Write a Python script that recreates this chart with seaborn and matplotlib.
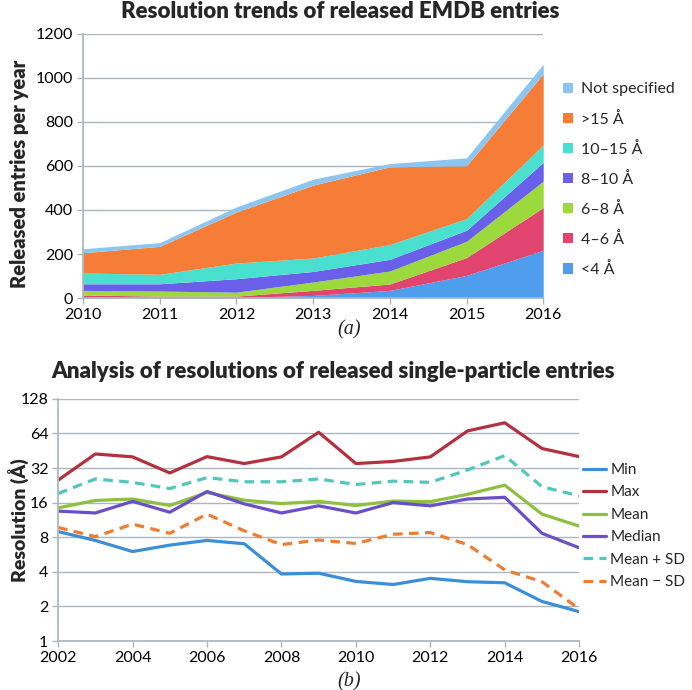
import numpy as np
import pandas as pd
import matplotlib
matplotlib.use("Agg")
import matplotlib.pyplot as plt
import seaborn as sns

# ---------------------------------------------------------------
# Datos panel (a): entradas EMDB publicadas por año y resolución
# ---------------------------------------------------------------
years_a = [2010, 2011, 2012, 2013, 2014, 2015, 2016]
res_lt4 = [5, 3, 3, 12, 35, 103, 217]
res_4_6 = [9, 6, 6, 23, 29, 81, 194]
res_6_8 = [21, 23, 18, 38, 59, 74, 120]
res_8_10 = [30, 33, 61, 48, 53, 50, 85]
res_10_15 = [49, 43, 71, 61, 67, 53, 79]
res_gt15 = [92, 127, 232, 331, 353, 240, 323]
res_ns = [18, 17, 23, 27, 15, 36, 44]
labels_a = ["<4 Å", "4–6 Å", "6–8 Å", "8–10 Å", "10–15 Å", ">15 Å", "Not specified"]
colors_a = ["#4f9ded", "#e0446f", "#9bd93c", "#6a5fe8", "#4ae0d0", "#f57d38", "#8cc6f0"]

# ---------------------------------------------------------------
# Datos panel (b): estadísticas de resolución (Å), single-particle
# ---------------------------------------------------------------
years_b = list(range(2002, 2017))
res_min = [8.95, 7.5, 6.0, 6.83, 7.5, 7.02, 3.83, 3.89, 3.3, 3.1, 3.51, 3.28, 3.21, 2.21, 1.80]
res_max = [25.1, 42.4, 40.0, 29.0, 40.2, 35.0, 40.0, 65.5, 35.0, 36.5, 40.0, 67.3, 79.2, 47.3, 40.2]
res_mean = [14.4, 16.7, 17.2, 15.1, 19.6, 16.8, 15.7, 16.4, 15.1, 16.5, 16.3, 18.9, 22.7, 12.7, 10.0]
res_median = [13.5, 13.0, 16.4, 13.2, 20.0, 15.6, 13.0, 15.0, 13.0, 16.0, 15.0, 17.2, 17.8, 8.65, 6.47]
res_mean_plus = [19.2, 25.7, 24.0, 21.2, 26.4, 24.3, 24.3, 25.7, 23.0, 24.6, 24.0, 30.8, 41.0, 22.0, 18.3]
res_mean_minus = [9.72, 8.1, 10.4, 8.65, 12.7, 9.1, 6.9, 7.56, 7.06, 8.49, 8.78, 6.9, 4.16, 3.28, 1.9]
labels_b = ["Min", "Max", "Mean", "Median", "Mean + SD", "Mean − SD"]
colors_b = ["#3b8fd8", "#b3303f", "#8dc03f", "#6a50c8", "#4fc8bb", "#ee7d31"]

sns.set_theme(style="white")
plt.rcParams["font.family"] = ["Lato", "DejaVu Sans"]

fig = plt.figure(figsize=(6.92, 6.90), dpi=100)
grid_col = "#aab7c0"

# =================================================================
# PANEL (a)
# =================================================================
ax1 = fig.add_axes([0.120, 0.568, 0.665, 0.383])
ax1.stackplot(years_a, res_lt4, res_4_6, res_6_8, res_8_10, res_10_15, res_gt15, res_ns,
              colors=colors_a, labels=labels_a, linewidth=0)
ax1.set_xlim(2010, 2016)
ax1.set_ylim(0, 1200)
ax1.set_yticks(range(0, 1201, 200))
ax1.set_xticks(years_a)
ax1.yaxis.grid(True, color=grid_col, linewidth=1)
ax1.set_axisbelow(True)
for s in ["top", "right"]:
    ax1.spines[s].set_visible(False)
ax1.spines["left"].set_color(grid_col)
ax1.spines["bottom"].set_color(grid_col)
ax1.tick_params(axis="both", labelsize=11.5, colors="black", length=4, width=1, pad=3)
ax1.tick_params(axis="y", color=grid_col, direction="out", left=True)
ax1.tick_params(axis="x", color=grid_col, direction="out", bottom=True)
ax1.set_ylabel("Released entries per year", fontsize=14.5, fontweight="heavy")
ax1.yaxis.set_label_coords(-0.118, 0.47)
fig.text(0.491, 0.984, "Resolution trends of released EMDB entries",
         ha="center", va="center", fontsize=16, fontweight="heavy")
h, l = ax1.get_legend_handles_labels()
ax1.legend(h[::-1], l[::-1], loc="upper left", bbox_to_anchor=(1.03, 0.84),
           frameon=False, fontsize=11.5, handlelength=0.6, handleheight=0.6,
           labelspacing=0.95, handletextpad=0.5, borderaxespad=0)
fig.text(0.505, 0.522, "(a)", ha="center", va="center", fontsize=14.5,
         family="Liberation Serif", style="italic")

# =================================================================
# PANEL (b)
# =================================================================
df_b = pd.DataFrame({
    "Year": years_b * 6,
    "Resolution": res_min + res_max + res_mean + res_median + res_mean_plus + res_mean_minus,
    "Serie": sum([[lab] * len(years_b) for lab in labels_b], []),
})

ax2 = fig.add_axes([0.084, 0.071, 0.753, 0.351])
sns.lineplot(data=df_b, x="Year", y="Resolution", hue="Serie", style="Serie",
             hue_order=labels_b, style_order=labels_b,
             palette=dict(zip(labels_b, colors_b)),
             dashes={"Min": "", "Max": "", "Mean": "", "Median": "",
                     "Mean + SD": (3, 2), "Mean − SD": (3, 2)},
             linewidth=2.3, ax=ax2)
ax2.set_yscale("log", base=2)
ax2.set_ylim(1, 128)
ax2.set_xlim(2002, 2016)
ax2.set_yticks([1, 2, 4, 8, 16, 32, 64, 128])
ax2.set_yticklabels(["1", "2", "4", "8", "16", "32", "64", "128"])
ax2.minorticks_off()
ax2.set_xticks(range(2002, 2017, 2))
ax2.yaxis.grid(True, color=grid_col, linewidth=1)
ax2.set_axisbelow(True)
for s in ["top", "right"]:
    ax2.spines[s].set_visible(False)
ax2.spines["left"].set_color(grid_col)
ax2.spines["bottom"].set_color(grid_col)
ax2.tick_params(axis="both", labelsize=11.5, colors="black", length=4, width=1, pad=3)
ax2.tick_params(axis="y", color=grid_col, direction="out", left=True)
ax2.tick_params(axis="x", color=grid_col, direction="out", bottom=True)
ax2.set_xlabel("")
ax2.set_ylabel("Resolution (Å)", fontsize=14, fontweight="heavy")
ax2.yaxis.set_label_coords(-0.056, 0.5)
fig.text(0.482, 0.461, "Analysis of resolutions of released single-particle entries",
         ha="center", va="center", fontsize=16, fontweight="heavy")
ax2.legend(loc="upper left", bbox_to_anchor=(0.995, 0.76), frameon=False,
           fontsize=11, handlelength=1.5, labelspacing=0.55, handletextpad=0.3,
           borderaxespad=0)
fig.text(0.505, 0.012, "(b)", ha="center", va="center", fontsize=14.5,
         family="Liberation Serif", style="italic")

fig.savefig("out.png", dpi=100)
